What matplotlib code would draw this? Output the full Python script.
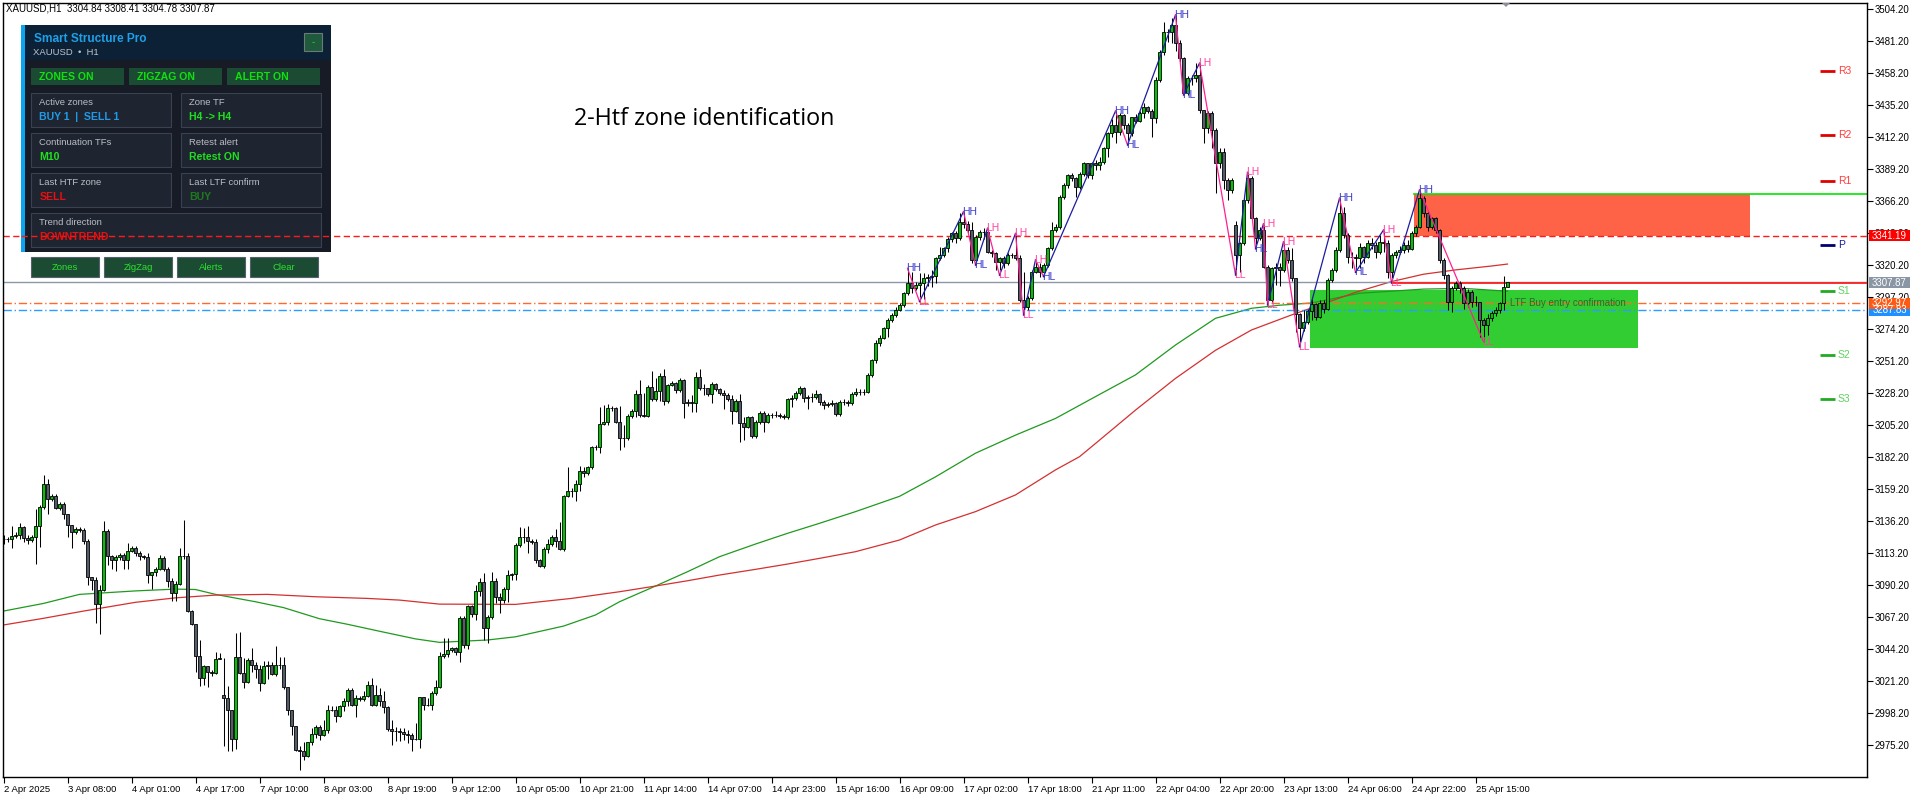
import matplotlib
matplotlib.use('Agg')
import matplotlib.pyplot as plt
from matplotlib.patches import Rectangle, Polygon
import numpy as np

plt.rcParams['font.family'] = ['Liberation Sans', 'DejaVu Sans']

# ---------------- data (XAUUSD H1) ----------------
opens = [
    3123, 3123, 3123, 3125.6, 3126.5, 3132, 3124, 3122.7, 3124.8, 3132.7,
    3146.4, 3163, 3152.3, 3154.2, 3145.6, 3148.5, 3141.6, 3133.2, 3128.4, 3130.3,
    3130.1, 3122.2, 3096.2, 3093.8, 3076.6, 3086.6, 3129.4, 3111.2, 3108.1, 3110.5,
    3111.7, 3108.4, 3115, 3117, 3113.6, 3111.2, 3110.3, 3097.6, 3099.3, 3101.4,
    3110, 3101.9, 3093.1, 3084.5, 3091.2, 3111.2, 3111.2, 3071.6, 3062.5, 3039.5,
    3023.3, 3031.7, 3028, 3026.9, 3037.2, 3011, 3009, 3000.6, 2979.8, 3038.8,
    3026.9, 3020.2, 3036.4, 3032.4, 3030, 3019.7, 3031.7, 3032.4, 3026.2, 3032.4,
    3032.9, 3016.6, 3000.1, 2988.6, 2971.7, 2970.7, 2967.1, 2977.2, 2983.2, 2987.9,
    2982.2, 2986.3, 3000.6, 3000.6, 2995.8, 3003, 3006.6, 3014.5, 3004.2, 3009,
    3008.5, 3010.2, 3018, 3003.7, 3010.9, 3007, 3002.5, 2987, 2985.5, 2985.1,
    2984.3, 2983.2, 2982.2, 2979.6, 2979.6, 3009.7, 3003.7, 3004.2, 3012.5, 3016.6,
    3039, 3040.6, 3043.5, 3044.7, 3042.3, 3066.3, 3047.1, 3075.1, 3069.4, 3086.1,
    3092.1, 3059.1, 3067, 3093.3, 3081.8, 3079.4, 3087.1, 3097.4, 3098, 3119,
    3125, 3125, 3122.1, 3121.4, 3108.2, 3104.1, 3115.9, 3119.7, 3124.5, 3122.1,
    3116.1, 3154.2, 3157.8, 3158, 3162.8, 3172.4, 3170.5, 3174.8, 3189.2, 3189.2,
    3205.8, 3207.2, 3217.3, 3217.3, 3207.7, 3195.7, 3195.7, 3211.7, 3215.6, 3227.6,
    3212.5, 3211.7, 3232.8, 3223.7, 3229.9, 3240.5, 3222.8, 3234, 3235.2, 3230.4,
    3237.6, 3220.9, 3222, 3220.9, 3239.6, 3231.6, 3231.6, 3227.3, 3234.8, 3230.9,
    3228, 3226.8, 3223.7, 3215.3, 3222.8, 3206.5, 3204.1, 3210.8, 3197.4, 3207.7,
    3213.7, 3207.7, 3212.5, 3212.5, 3212.5, 3211.7, 3210.8, 3223.7, 3224.5, 3228.5,
    3231.6, 3224.5, 3225.2, 3225.2, 3227.3, 3222.1, 3219.7, 3220.4, 3220.9, 3213.2,
    3222.1, 3222.1, 3221.3, 3227.6, 3229.2, 3229.2, 3229.2, 3241.2, 3252, 3264,
    3268, 3274.8, 3280.8, 3284.4, 3288, 3291.6, 3300, 3307.2, 3303.6, 3306,
    3307.2, 3310.8, 3312, 3312.4, 3325.1, 3327.5, 3332.3, 3338.8, 3343.1, 3340,
    3351.5, 3349.8, 3345.5, 3324, 3340.2, 3344.3, 3344.3, 3329.9, 3328.7, 3322.7,
    3325.1, 3321.5, 3327.5, 3327.5, 3325.1, 3295.2, 3290.4, 3296.4, 3315.6, 3319.1,
    3315.6, 3320.3, 3332.3, 3345.5, 3347.9, 3369.5, 3377.9, 3385.1, 3382.7, 3376.2,
    3385.8, 3393.5, 3385.1, 3393.5, 3392.2, 3394.6, 3404.2, 3415, 3421, 3416.2,
    3428.2, 3421, 3415, 3426.5, 3424.1, 3429.4, 3434.2, 3431.3, 3425.8, 3453.4,
    3473.8, 3487.6, 3488.1, 3492.9, 3479.7, 3469, 3443.8, 3454.6, 3454.6, 3457,
    3431.8, 3418.6, 3429.4, 3417.4, 3393.5, 3401.8, 3381.5, 3374.3, 3349.1, 3327.5,
    3335.9, 3367.1, 3382.7, 3353.9, 3339.5, 3345.5, 3319.1, 3295.2, 3318, 3319.1,
    3316.7, 3331.2, 3324, 3310.8, 3285, 3275, 3279.6, 3287, 3292, 3283,
    3293, 3289, 3309.6, 3316.8, 3331.2, 3357.5, 3342, 3326.4, 3326, 3325,
    3333, 3326, 3336, 3334.8, 3330, 3337.2, 3336, 3315.1, 3327.6, 3330,
    3331.2, 3334.8, 3332, 3343.1, 3347.9, 3368.3, 3357.5, 3347.9, 3353.9, 3345.5,
    3324, 3313, 3294, 3303.6, 3307.2, 3303.6, 3292.8, 3301.2, 3293.5, 3293.5,
    3280.8, 3277.2, 3282.5, 3285.6, 3288, 3292.8, 3304.84,
]
highs = [
    3126, 3125, 3133, 3128, 3135, 3133, 3126, 3126.5, 3145, 3147.5,
    3169, 3166.2, 3156, 3156, 3150, 3150, 3141.6, 3133.2, 3132, 3132,
    3131, 3123.6, 3096.2, 3096.2, 3090.2, 3136.6, 3130.8, 3111.7, 3111.7, 3113,
    3113, 3120.5, 3118.1, 3118, 3114.5, 3112, 3112.9, 3099.7, 3103, 3111.7,
    3111, 3103, 3095, 3093, 3117, 3137.3, 3113, 3072, 3062.5, 3050.7,
    3032.8, 3032, 3029, 3042.4, 3041.2, 3037.6, 3017.8, 3000.6, 3055.5, 3056.2,
    3037.6, 3037.6, 3045.2, 3035.2, 3032.4, 3035.7, 3035.7, 3035.2, 3046.7, 3038.3,
    3038.8, 3016.6, 3000.1, 2988.6, 2974.3, 2977.4, 2977.2, 2987.4, 2989.8, 2989.8,
    2993.4, 3003.7, 3003, 3003, 3004.2, 3008.9, 3016.1, 3016.1, 3010.9, 3010.2,
    3013.7, 3020.9, 3023.3, 3018.5, 3016.1, 3013.7, 3003, 2993.4, 2987.9, 2987.4,
    2987.4, 2986.2, 2983.8, 2991, 3010, 3009.7, 3008.9, 3013.7, 3022, 3042.4,
    3051.9, 3051.9, 3046, 3046, 3067.9, 3068, 3076, 3076, 3090.2, 3095,
    3098.6, 3068.7, 3099.8, 3095, 3084.2, 3089, 3101, 3099, 3120.7, 3132.2,
    3131, 3132.6, 3123, 3123.1, 3109, 3117.3, 3123.1, 3126, 3130.3, 3135.8,
    3155, 3175.3, 3159.7, 3165.7, 3175.8, 3175.3, 3176, 3190.5, 3191, 3218.5,
    3219.7, 3220.4, 3219, 3218.5, 3219, 3205.3, 3213.2, 3217, 3230.4, 3237.6,
    3228, 3234, 3244.3, 3238.8, 3242.4, 3245.3, 3235, 3237, 3236, 3239,
    3238, 3224, 3226.8, 3243.6, 3245.3, 3234.8, 3232, 3236.4, 3235.5, 3232,
    3230.4, 3228, 3226.8, 3224, 3227.6, 3211.3, 3212, 3211.7, 3209, 3215,
    3215.6, 3214, 3214, 3215, 3214, 3213, 3225, 3227, 3230, 3233,
    3232.4, 3227, 3228, 3230.4, 3228, 3223, 3222, 3223, 3222, 3223,
    3224, 3223, 3229, 3231.6, 3231, 3231, 3242.4, 3253, 3266.4, 3270,
    3276, 3282, 3286, 3290, 3293, 3301, 3318, 3315.6, 3308, 3314.3,
    3314.3, 3314, 3316.7, 3326.3, 3333.5, 3333.5, 3340.7, 3344, 3345, 3357.5,
    3358.7, 3352, 3351.5, 3341.9, 3345.5, 3346.7, 3346.7, 3331, 3329.9, 3326.3,
    3327, 3329, 3329, 3343, 3327.5, 3315.6, 3298, 3316.7, 3324, 3321.5,
    3322, 3333.5, 3351.5, 3349.8, 3370.5, 3379, 3386, 3386.5, 3383.5, 3387,
    3394.6, 3394, 3394.6, 3396, 3398.2, 3405, 3416, 3425, 3431, 3429.4,
    3429, 3422.2, 3427, 3429, 3431, 3436.6, 3435, 3432.4, 3455.8, 3475,
    3495.3, 3490, 3497.7, 3500.1, 3482, 3470, 3456, 3457, 3465.4, 3465.4,
    3431.8, 3431.3, 3431, 3418.6, 3404.2, 3404.2, 3383, 3383, 3352, 3337,
    3368.3, 3386.9, 3384, 3355, 3347.9, 3350, 3320, 3319.1, 3321.5, 3321.5,
    3337, 3333, 3332.4, 3311, 3286, 3288, 3289, 3296, 3293, 3295,
    3295, 3311, 3318, 3333, 3368.3, 3362, 3343, 3330, 3328, 3336,
    3334, 3338, 3340, 3337, 3342, 3345.5, 3338, 3329, 3331, 3334,
    3337, 3338, 3345, 3349, 3374.3, 3370, 3359, 3355, 3355, 3346,
    3325, 3314, 3305, 3309, 3309, 3305, 3303, 3302, 3298, 3294,
    3282, 3285, 3287, 3290, 3294, 3312.5, 3308.41,
]
lows = [
    3120, 3121, 3116.5, 3124, 3123.6, 3121, 3120, 3121.2, 3105.7, 3117.7,
    3145, 3141.6, 3151, 3145, 3144, 3138, 3124.8, 3116.5, 3127, 3128,
    3120, 3090.2, 3086.6, 3062.7, 3055, 3085.9, 3104.5, 3102.1, 3100.2, 3108,
    3102, 3102.1, 3114.1, 3111, 3108, 3109, 3091.4, 3087.3, 3097, 3101,
    3100, 3089, 3078.7, 3079, 3090, 3109, 3071, 3061.5, 3028, 3017.8,
    3018.5, 3016.6, 3025, 3026, 3037, 2974.3, 2971, 2971, 2972.6, 3026,
    3016.1, 3019.7, 3028, 3023.3, 3014.2, 3019, 3022.8, 3025.6, 3025, 3030,
    3015.6, 2997, 2982.6, 2970.7, 2957.5, 2964.7, 2966.4, 2975, 2980.2, 2979,
    2981.4, 2983.8, 2999.4, 2991.7, 2995.1, 2999.4, 3003, 3003, 2995.1, 3007,
    3006.6, 3009.4, 3003, 3003, 3003, 2998.2, 2985.1, 2975.5, 2977.8, 2977.8,
    2979, 2976.6, 2970.7, 2979, 2973, 3000.6, 3002.9, 3000.6, 3011.4, 3016.1,
    3037.5, 3038.7, 3042, 3040, 3035.1, 3045, 3044, 3067, 3065.1, 3082.3,
    3050.7, 3048.5, 3066, 3077, 3070.3, 3077, 3078.2, 3093.8, 3093.8, 3117.8,
    3120.2, 3113, 3120, 3106.3, 3103, 3102.2, 3113, 3118, 3117.8, 3115.4,
    3115, 3153.7, 3153.7, 3150.9, 3158, 3168.1, 3169, 3174, 3187.5, 3184.9,
    3205.3, 3205.3, 3215, 3206.5, 3187.3, 3189.7, 3194.5, 3210, 3211.3, 3210.8,
    3210.8, 3210.8, 3222.8, 3222.8, 3222.8, 3219.7, 3221, 3233, 3228, 3229,
    3210.1, 3219, 3214.9, 3214.9, 3230.4, 3226.8, 3226, 3220.9, 3229.5, 3227,
    3216.5, 3222.5, 3206, 3214.5, 3193.3, 3194.5, 3203, 3195.7, 3196, 3206,
    3200.5, 3206.5, 3210, 3211, 3210, 3209.5, 3209.5, 3218, 3223, 3227,
    3222, 3217, 3222, 3224, 3220, 3217, 3218, 3219, 3211.7, 3212,
    3220, 3219, 3220, 3226, 3227, 3227, 3228, 3240, 3250, 3262,
    3267, 3268.3, 3279, 3283, 3287, 3290, 3299, 3300, 3302, 3294,
    3296, 3305, 3304.8, 3307.6, 3323.9, 3326.3, 3329.9, 3337, 3335.9, 3338,
    3347, 3343, 3321.5, 3320.3, 3338, 3338.8, 3328.7, 3326, 3316.7, 3313,
    3318, 3320, 3325, 3323.9, 3294, 3284.4, 3288, 3295.2, 3314.3, 3312,
    3312, 3319, 3331, 3344, 3346, 3368, 3376, 3381, 3369.5, 3375,
    3384, 3383, 3382, 3388.7, 3388.7, 3393, 3398.2, 3412.6, 3407.8, 3414,
    3418, 3406.6, 3413, 3422.2, 3423.4, 3425.8, 3429.4, 3412.6, 3422.2, 3452.2,
    3471.3, 3481, 3479.7, 3474, 3466, 3442.6, 3442.6, 3450, 3452.2, 3429.9,
    3407.8, 3415, 3404.2, 3371.9, 3390, 3375, 3367.1, 3372, 3313.1, 3315,
    3335, 3364.7, 3352.7, 3332, 3338.3, 3318, 3291.6, 3294, 3306, 3305,
    3315, 3322, 3309, 3272, 3261.6, 3273, 3278, 3281, 3281, 3282,
    3286, 3288, 3308, 3315, 3330, 3340, 3322, 3318, 3315, 3318,
    3322, 3325, 3332, 3325, 3328, 3330, 3311, 3307.5, 3325, 3328,
    3329, 3330, 3331, 3341, 3347, 3355, 3345, 3346, 3343, 3322,
    3310, 3288, 3286.8, 3302, 3300, 3289, 3290, 3290, 3291, 3268.8,
    3265.2, 3270, 3280, 3284, 3286, 3288, 3304.78,
]
closes = [
    3123, 3123, 3125.6, 3126.5, 3132, 3124, 3122.7, 3124.8, 3132.7, 3146.4,
    3163, 3152.3, 3154.2, 3145.6, 3148.5, 3141.6, 3133.2, 3128.4, 3130.3, 3130.1,
    3122.2, 3096.2, 3093.8, 3076.6, 3086.6, 3129.4, 3111.2, 3108.1, 3110.5, 3111.7,
    3108.4, 3115, 3117, 3113.6, 3111.2, 3110.3, 3097.6, 3099.3, 3101.4, 3110,
    3101.9, 3093.1, 3084.5, 3091.2, 3111.2, 3111.2, 3071.6, 3062.5, 3039.5, 3023.3,
    3031.7, 3028, 3026.9, 3037.2, 3038.1, 3009, 3000.6, 2979.8, 3038.8, 3026.9,
    3020.2, 3036.4, 3032.4, 3030, 3019.7, 3031.7, 3032.4, 3026.2, 3032.4, 3032.9,
    3016.6, 3000.1, 2988.6, 2971.7, 2970.7, 2967.1, 2977.2, 2983.2, 2987.9, 2982.2,
    2986.3, 3000.6, 3000.6, 2995.8, 3003, 3006.6, 3014.5, 3004.2, 3009, 3008.5,
    3010.2, 3018, 3003.7, 3010.9, 3007, 3002.5, 2987, 2985.5, 2985.1, 2984.3,
    2983.2, 2982.2, 2979.6, 2979.6, 3009.7, 3003.7, 3004.2, 3012.5, 3016.6, 3039,
    3040.6, 3043.5, 3044.7, 3042.3, 3066.3, 3047.1, 3075.1, 3069.4, 3086.1, 3092.1,
    3059.1, 3067, 3093.3, 3081.8, 3079.4, 3087.1, 3097.4, 3098, 3119, 3125,
    3125, 3122.1, 3121.4, 3108.2, 3104.1, 3115.9, 3119.7, 3124.5, 3122.1, 3116.1,
    3154.2, 3157.8, 3158, 3162.8, 3172.4, 3170.5, 3174.8, 3189.2, 3189.2, 3205.8,
    3207.2, 3217.3, 3217.3, 3207.7, 3195.7, 3195.7, 3211.7, 3215.6, 3227.6, 3212.5,
    3211.7, 3232.8, 3223.7, 3229.9, 3240.5, 3222.8, 3234, 3235.2, 3230.4, 3237.6,
    3220.9, 3222, 3220.9, 3239.6, 3231.6, 3231.6, 3227.3, 3234.8, 3230.9, 3228,
    3226.8, 3223.7, 3215.3, 3222.8, 3206.5, 3204.1, 3210.8, 3197.4, 3207.7, 3213.7,
    3207.7, 3212.5, 3212.5, 3212.5, 3211.7, 3210.8, 3223.7, 3224.5, 3228.5, 3231.6,
    3224.5, 3225.2, 3225.2, 3227.3, 3222.1, 3219.7, 3220.4, 3220.9, 3213.2, 3222.1,
    3222.1, 3221.3, 3227.6, 3229.2, 3229.2, 3229.2, 3241.2, 3252, 3264, 3268,
    3274.8, 3280.8, 3284.4, 3288, 3291.6, 3300, 3307.2, 3303.6, 3306, 3307.2,
    3310.8, 3312, 3312.4, 3325.1, 3327.5, 3332.3, 3338.8, 3343.1, 3340, 3351.5,
    3349.8, 3345.5, 3324, 3340.2, 3344.3, 3344.3, 3329.9, 3328.7, 3322.7, 3325.1,
    3321.5, 3327.5, 3327.5, 3325.1, 3295.2, 3290.4, 3296.4, 3315.6, 3319.1, 3315.6,
    3320.3, 3332.3, 3345.5, 3347.9, 3369.5, 3377.9, 3385.1, 3382.7, 3376.2, 3385.8,
    3393.5, 3385.1, 3393.5, 3392.2, 3394.6, 3404.2, 3415, 3421, 3416.2, 3428.2,
    3421, 3415, 3426.5, 3424.1, 3429.4, 3434.2, 3431.3, 3425.8, 3453.4, 3473.8,
    3487.6, 3488.1, 3492.9, 3479.7, 3469, 3443.8, 3454.6, 3454.6, 3457, 3431.8,
    3418.6, 3429.4, 3417.4, 3393.5, 3401.8, 3381.5, 3374.3, 3381.5, 3327.5, 3335.9,
    3367.1, 3382.7, 3353.9, 3339.5, 3345.5, 3319.1, 3295.2, 3318, 3319.1, 3316.7,
    3331.2, 3324, 3310.8, 3285, 3275, 3279.6, 3287, 3292, 3283, 3293,
    3289, 3309.6, 3316.8, 3331.2, 3357.5, 3342, 3326.4, 3326, 3325, 3333,
    3326, 3336, 3334.8, 3330, 3337.2, 3336, 3315.1, 3327.6, 3330, 3331.2,
    3334.8, 3332, 3343.1, 3347.9, 3368.3, 3357.5, 3347.9, 3353.9, 3345.5, 3324,
    3313, 3294, 3303.6, 3307.2, 3303.6, 3292.8, 3301.2, 3293.5, 3293.5, 3280.8,
    3277.2, 3282.5, 3285.6, 3288, 3292.8, 3304.8, 3307.87,
]

time_labels = ['2 Apr 2025', '3 Apr 08:00', '4 Apr 01:00', '4 Apr 17:00', '7 Apr 10:00',
               '8 Apr 03:00', '8 Apr 19:00', '9 Apr 12:00', '10 Apr 05:00', '10 Apr 21:00',
               '11 Apr 14:00', '14 Apr 07:00', '14 Apr 23:00', '15 Apr 16:00', '16 Apr 09:00',
               '17 Apr 02:00', '17 Apr 18:00', '21 Apr 11:00', '22 Apr 04:00', '22 Apr 20:00',
               '23 Apr 13:00', '24 Apr 06:00', '24 Apr 22:00', '25 Apr 15:00']
price_ticks = [2975.2, 2998.2, 3021.2, 3044.2, 3067.2, 3090.2, 3113.2, 3136.2, 3159.2,
               3182.2, 3205.2, 3228.2, 3251.2, 3274.2, 3297.2, 3320.2, 3343.2, 3366.2,
               3389.2, 3412.2, 3435.2, 3458.2, 3481.2, 3504.2]

# moving averages (bar index, price)
ma_green_x = [0, 10, 19, 33, 43, 48, 53, 63, 70, 79, 86, 94, 103, 109, 121, 128, 140, 148,
              154, 163, 171, 179, 188, 196, 204, 213, 224, 233, 243, 253, 263, 273, 283,
              293, 303, 312, 319, 327, 339, 355, 365, 376]
ma_green_y = [3071.5, 3077, 3083.5, 3086, 3087.3, 3087, 3083.5, 3078.2, 3074, 3066, 3062,
              3057, 3051.5, 3049, 3050.7, 3053, 3060.7, 3068.7, 3078.2, 3089.5, 3099.8,
              3110.6, 3119.7, 3127.4, 3134.6, 3143, 3154, 3168, 3185, 3198, 3210, 3225.7,
              3241.3, 3262.8, 3282, 3289.2, 3291.4, 3293, 3300, 3303, 3303.5, 3301.5]
ma_red_x = [0, 10, 20, 33, 43, 53, 66, 78, 91, 99, 109, 128, 142, 154, 163, 171, 179, 188,
            196, 204, 213, 224, 233, 243, 253, 263, 269, 273, 283, 293, 303, 312, 322, 331,
            338, 347, 355, 363, 372, 376]
ma_red_y = [3061.5, 3066.3, 3071.5, 3077.8, 3081, 3083, 3083.5, 3081.8, 3080.6, 3079.4,
            3076.5, 3076.3, 3080.6, 3085.4, 3089.5, 3093.3, 3097.4, 3101.5, 3105.3, 3109.4,
            3114.2, 3122.6, 3133.4, 3143, 3155, 3173, 3182.5, 3192, 3216, 3238.8, 3259,
            3273.6, 3284.4, 3293.5, 3300.7, 3308.4, 3313.7, 3316.8, 3319.6, 3321]

# zigzag swing points
zz_x = [226, 229, 240, 243, 246, 249, 253, 255, 258, 260, 278, 281, 293, 295, 299, 308,
        311, 313, 315, 316, 320, 324, 334, 338, 345, 347, 354, 370]
zz_y = [3318, 3294, 3358.7, 3320.3, 3346.7, 3313, 3343, 3284.4, 3324, 3312, 3431, 3406.6,
        3500.1, 3442.6, 3465.4, 3313.1, 3386.9, 3332, 3350, 3291.6, 3337, 3261.6, 3368.3,
        3315, 3345.5, 3307.5, 3374.3, 3265.2]
zz_lbl = ['HH', 'LL', 'HH', 'HL', 'LH', 'LL', 'LH', 'LL', 'LH', 'HL', 'HH', 'HL', 'HH', 'HL',
          'LH', 'LL', 'LH', 'HL', 'LH', 'LL', 'LH', 'LL', 'HH', 'HL', 'LH', 'LL', 'HH', 'LL']

# levels
bid = 3307.87
sell_level = 3341.19
orange_level = 3292.97
blue_level = 3287.83
ltf_line = 3307.2
ltf_line_start = 347
sell_zone = (352.6, 436.6, 3341.19, 3371.2)   # x0, x1, bottom, top
buy_zone = (326.6, 408.6, 3260.9, 3302.2)
pivot_names = ['R3', 'R2', 'R1', 'P', 'S1', 'S2', 'S3']
pivot_vals = [3460.1, 3413.9, 3380.7, 3334.7, 3301.6, 3255.6, 3224.0]

# ---------------- figure ----------------
W, H = 1917, 798
fig = plt.figure(figsize=(W / 100, H / 100), dpi=100)
fig.patch.set_facecolor('white')
ax = fig.add_axes([3 / W, 21 / H, 1864 / W, 774 / H])
ax.set_xlim(-0.125, 465.875)
ax.set_ylim(2952.2, 3508.7)
for s in ax.spines.values():
    s.set_color('black')
    s.set_linewidth(1)

# zones
ax.add_patch(Rectangle((buy_zone[0], buy_zone[2]), buy_zone[1] - buy_zone[0],
                       buy_zone[3] - buy_zone[2], fc='#32cd32', ec='none', zorder=1))
ax.add_patch(Rectangle((sell_zone[0], sell_zone[2]), sell_zone[1] - sell_zone[0],
                       sell_zone[3] - sell_zone[2], fc='#ff6347', ec='none', zorder=1))
ax.plot([sell_zone[0], 466], [sell_zone[3]] * 2, color='#00e600', lw=1.2, zorder=2)

# moving averages
ax.plot(ma_green_x, ma_green_y, color='#1f9a1f', lw=0.9, zorder=2)
ax.plot(ma_red_x, ma_red_y, color='#d43030', lw=0.9, zorder=2)

# horizontal levels
ax.axhline(sell_level, color='#ff1a1a', lw=1, ls=(0, (4.5, 2.5)), zorder=2.5)
ax.axhline(orange_level, color='#ff6a2a', lw=1, ls=(0, (6, 2, 1, 2)), zorder=2.5)
ax.axhline(blue_level, color='#2a9dff', lw=1, ls=(0, (6, 2, 1, 2)), zorder=2.5)
ax.axhline(bid, color='#8c98a8', lw=1, zorder=2.5)
ax.plot([ltf_line_start, 466], [ltf_line] * 2, color='#ff2020', lw=1.3, zorder=2.6)

# candles
xs = np.arange(len(closes))
o, h, l, c = (np.array(v, dtype=float) for v in (opens, highs, lows, closes))
up = c >= o
ax.vlines(xs, l, h, colors='black', linewidth=0.75, zorder=4)
ax.bar(xs[up], c[up] - o[up], bottom=o[up], width=0.72, color='#00c400',
       edgecolor='black', linewidth=0.6, zorder=5)
ax.bar(xs[~up], o[~up] - c[~up], bottom=c[~up], width=0.72, color='#535d69',
       edgecolor='black', linewidth=0.6, zorder=5)

# zigzag
for i in range(len(zz_x) - 1):
    col = '#1c1ca0' if zz_y[i + 1] > zz_y[i] else '#ff2090'
    ax.plot(zz_x[i:i + 2], zz_y[i:i + 2], color=col, lw=0.9, zorder=6)
for bx, py_, s in zip(zz_x, zz_y, zz_lbl):
    col = '#3a3acc' if s[0] == 'H' else '#ff3fa0'
    ax.text(bx - 0.4, py_, s, color=col, fontsize=7.5, ha='left', va='center', zorder=7)

ax.text(376.6, 3293.3, 'LTF Buy entry confirmation', color='#2d6a2d', fontsize=7,
        ha='left', va='center', zorder=7)

# pivots
piv_line = {'R': '#e00000', 'P': '#000070', 'S': '#22aa22'}
piv_text = {'R': '#ff3b3b', 'P': '#1a1aa0', 'S': '#5fd35f'}
for name, val in zip(pivot_names, pivot_vals):
    ax.plot([454.1, 457.9], [val, val], color=piv_line[name[0]], lw=2, zorder=6,
            solid_capstyle='butt')
    ax.text(458.6, val, name, color=piv_text[name[0]], fontsize=7.5, ha='left',
            va='center', zorder=7)

# axes ticks
ax.yaxis.tick_right()
ax.set_yticks(price_ticks)
ax.set_yticklabels(['%.2f' % v for v in price_ticks])
ax.tick_params(axis='y', length=4, width=0.8, pad=1.5, labelsize=6.9, colors='black')
ax.set_xticks(np.arange(len(time_labels)) * 16)
ax.set_xticklabels(time_labels)
ax.tick_params(axis='x', length=4, width=0.8, pad=2, labelsize=6.8, colors='black')
for t in ax.get_xticklabels():
    t.set_horizontalalignment('left')

# ---------------- overlay in pixel coordinates ----------------
ov = fig.add_axes([0, 0, 1, 1], zorder=10)
ov.set_xlim(0, W)
ov.set_ylim(H, 0)
ov.axis('off')
ov.patch.set_alpha(0)


def py(p):
    return H - ax.transData.transform((0, p))[1]


def box(x0, y0, x1, y1, fc, ec='none', lw=0):
    ov.add_patch(Rectangle((x0, y0), x1 - x0, y1 - y0, fc=fc, ec=ec, lw=lw))


# price tags on the right scale
for val, col in [(blue_level, '#1e90ff'), (orange_level, '#ff5a14'),
                 (bid, '#8a96a4'), (sell_level, '#ff0000')]:
    yy = py(val)
    box(1868.5, yy - 5.5, 1910, yy + 5.5, col)
    ov.text(1889.5, yy + 0.3, '%.2f' % val, color='white', fontsize=6.9,
            ha='center', va='center')

# chart header
ov.text(6, 8.5, 'XAUUSD,H1  3304.84 3308.41 3304.78 3307.87', fontsize=7,
        ha='left', va='center', color='black')
ov.add_patch(Polygon([(1502, 3), (1510, 3), (1506, 7)], closed=True, fc='#8a8f99', ec='none'))
ov.text(704, 119, '2-Htf zone identification', fontsize=16.8, ha='center', va='center',
        color='black', family=['Open Sans', 'DejaVu Sans'])

# dashboard panel
box(20.7, 25, 331, 252, '#161b26')
box(25, 25, 331, 60, '#0c2136')
box(20.7, 25, 25.3, 252, '#0aa5f0')
ov.text(34, 38.5, 'Smart Structure Pro', color='#1ea0e8', fontsize=8.6,
        fontweight='bold', ha='left', va='center')
ov.text(33, 52.5, 'XAUUSD  \u2022  H1', color='#c0c4cc', fontsize=6.8, ha='left', va='center')
box(304.3, 33.3, 321.7, 50.7, '#1f5a3c', '#6a7a7a', 0.8)
ov.text(313, 42, '-', color='#22dd22', fontsize=7, ha='center', va='center')

toggles = [('ZONES ON', 31, 124), ('ZIGZAG ON', 129, 221.7), ('ALERT ON', 227, 320)]
for txt, x0, x1 in toggles:
    box(x0, 68.3, x1, 85, '#1b4b32')
    ov.text(x0 + 8.3, 77, txt, color='#10e010', fontsize=7.6, fontweight='bold',
            ha='left', va='center')

cards = [
    (31, 170.7, 93.3, 'Active zones', 'BUY 1  |  SELL 1', '#1e9be8'),
    (181, 320.7, 93.3, 'Zone TF', 'H4 -> H4', '#1ee01e'),
    (31, 170.7, 133.3, 'Continuation TFs', 'M10', '#1ee01e'),
    (181, 320.7, 133.3, 'Retest alert', 'Retest ON', '#1ee01e'),
    (31, 170.7, 173.3, 'Last HTF zone', 'SELL', '#e81010'),
    (181, 320.7, 173.3, 'Last LTF confirm', 'BUY', '#1e7a1e'),
    (31, 320.7, 213.3, 'Trend direction', 'DOWNTREND', '#e81010'),
]
for x0, x1, y0, lab, val, col in cards:
    box(x0, y0, x1, y0 + 33.4, '#1e2430', '#3a4150', 0.8)
    ov.text(x0 + 8.3, y0 + 9.6, lab, color='#b9bec6', fontsize=6.8, ha='left', va='center')
    ov.text(x0 + 8.3, y0 + 24, val, color=col, fontsize=7.6, fontweight='bold',
            ha='left', va='center')

buttons = [('Zones', 31, 99), ('ZigZag', 104.3, 171.7), ('Alerts', 177.3, 245),
           ('Clear', 250, 317.7)]
for txt, x0, x1 in buttons:
    box(x0, 257.3, x1, 276.7, '#1c4b34', '#55606a', 0.8)
    ov.text((x0 + x1) / 2, 267, txt, color='#2ee02e', fontsize=6.8, ha='center', va='center')

# sell level dashes are drawn over the panel
ys = py(sell_level)
ov.plot([20.7, 331], [ys, ys], color='#ff1a1a', lw=1, ls=(0, (4.5, 2.5)))

fig.savefig('out.png', dpi=100)
